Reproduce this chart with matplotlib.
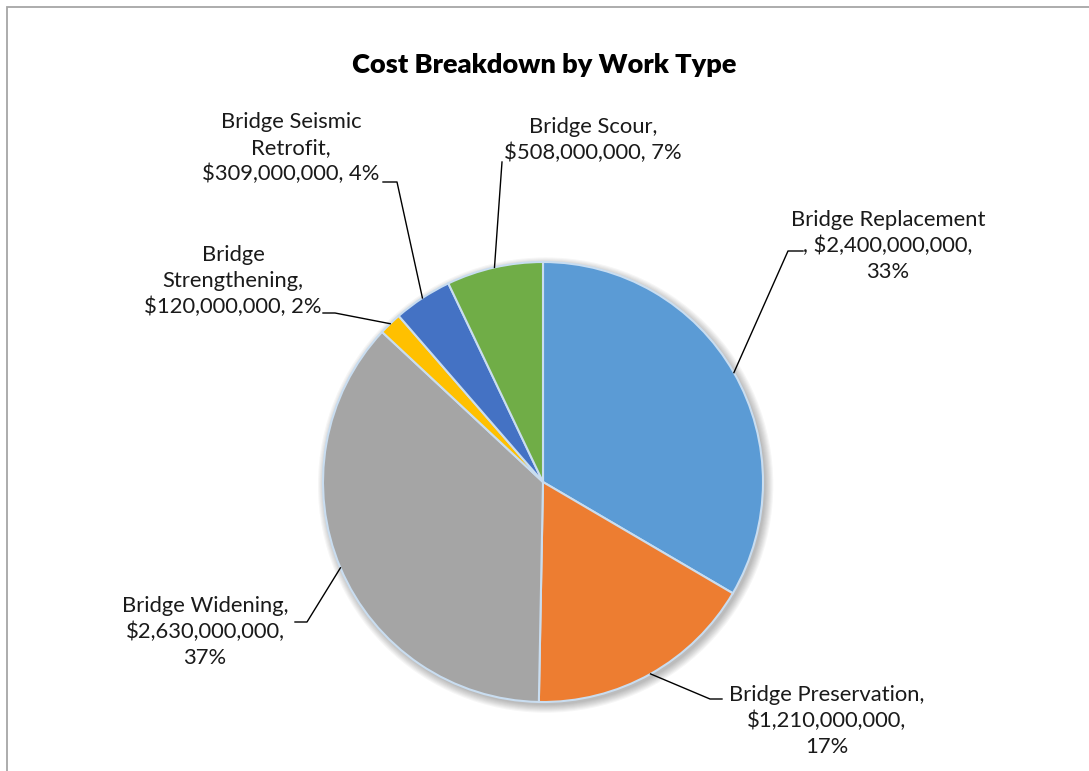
import numpy as np
import matplotlib.pyplot as plt
from matplotlib.patches import Circle, Rectangle

# datos del grafico
work_types = ['Bridge Replacement', 'Bridge Preservation', 'Bridge Widening',
              'Bridge Strengthening', 'Bridge Seismic Retrofit', 'Bridge Scour']
costs = [2400000000, 1210000000, 2630000000, 120000000, 309000000, 508000000]
colors = ['#5B9BD5', '#ED7D31', '#A5A5A5', '#FFC000', '#4472C4', '#70AD47']

# texto de etiquetas tal como lo parte Excel
label_texts = [
    'Bridge Replacement\n, $2,400,000,000,\n33%',
    'Bridge Preservation,\n$1,210,000,000,\n17%',
    'Bridge Widening,\n$2,630,000,000,\n37%',
    'Bridge\nStrengthening,\n$120,000,000, 2%',
    'Bridge Seismic\nRetrofit,\n$309,000,000, 4%',
    'Bridge Scour,\n$508,000,000, 7%',
]

W, H = 1089, 771
CX, CY, R = 543, 482, 220   # centro y radio del pastel en pixeles


def px(x, y):
    """pixeles (origen arriba-izquierda) -> coordenadas de datos"""
    return (x - CX) / R, (CY - y) / R


plt.rcParams['font.family'] = ['Lato', 'DejaVu Sans']
fig = plt.figure(figsize=(W / 100, H / 100), dpi=100)
ax = fig.add_axes([0, 0, 1, 1])

# marco del area del grafico
x0, y0 = px(7, 7)
ax.add_patch(Rectangle((x0, y0 - 10), 10, 10, fill=False, edgecolor='#A6A6A6',
                       linewidth=1.3, zorder=0, clip_on=False))

# sombra suave del pastel
for rr in np.linspace(1.035, 1.0, 8):
    ax.add_patch(Circle((0.012, -0.014), rr, facecolor='#000000', alpha=0.035,
                        edgecolor='none', zorder=1))

wedges, _ = ax.pie(costs, colors=colors, startangle=90, counterclock=False,
                   radius=1, center=(0, 0), frame=True,
                   wedgeprops=dict(edgecolor='#C9DDF0', linewidth=1.5, zorder=2))
ax.set_xlim(-CX / R, (W - CX) / R)
ax.set_ylim(-(H - CY) / R, CY / R)
ax.set_aspect('equal')
ax.axis('off')

# posiciones de etiquetas: codo del conector, extremo horizontal, centro del texto
layout = [
    dict(elbow=(788, 251), end=(803, 251), text=(888, 246)),
    dict(elbow=(710, 699), end=(722, 699), text=(827, 721)),
    dict(elbow=(307, 622), end=(295, 622), text=(205, 632)),
    dict(elbow=(335, 313), end=(323, 313), text=(233, 281)),
    dict(elbow=(397, 182), end=(383, 182), text=(291, 148)),
    dict(elbow=(502, 162), end=(502, 162), text=(593, 140)),
]

for w, txt, lay in zip(wedges, label_texts, layout):
    mid = np.deg2rad((w.theta1 + w.theta2) / 2)
    ex, ey = np.cos(mid), np.sin(mid)
    bx, by = px(*lay['elbow'])
    hx, hy = px(*lay['end'])
    ax.plot([ex, bx, hx], [ey, by, hy], color='black', linewidth=1.0, zorder=3)
    tx, ty = px(*lay['text'])
    ax.text(tx, ty, txt, ha='center', va='center', multialignment='center',
            fontsize=15.8, linespacing=1.38, color='#1A1A1A')

tx, ty = px(544, 65)
ax.text(tx, ty, 'Cost Breakdown by Work Type', ha='center', va='center',
        fontsize=19.5, fontweight='heavy', color='black')

fig.savefig('out.png', dpi=100)
